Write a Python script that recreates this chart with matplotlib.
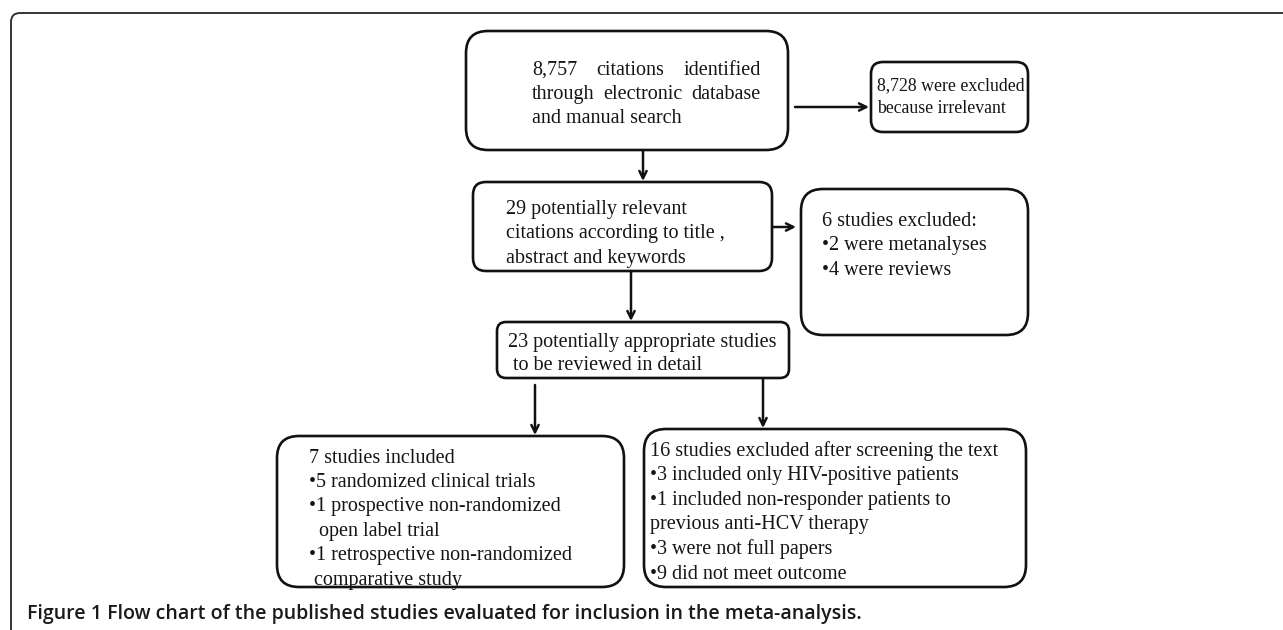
import matplotlib.pyplot as plt
from matplotlib.patches import FancyBboxPatch

# box texts, one list per box
search_text = ["8,757 citations identified", "through electronic database", "and manual search"]
irrelevant_text = ["8,728 were excluded", "because irrelevant"]
relevant_text = ["29 potentially relevant", "citations according to title ,", "abstract and keywords"]
review_text = ["6 studies excluded:", "\u20222 were metanalyses", "\u20224 were reviews"]
appropriate_text = ["23 potentially appropriate studies", " to be reviewed in detail"]
included_text = ["7 studies included", "\u20225 randomized clinical trials",
                 "\u20221 prospective non-randomized", "  open label trial",
                 "\u20221 retrospective non-randomized", " comparative study"]
screened_text = ["16 studies excluded after screening the text",
                 "\u20223 included only HIV-positive patients",
                 "\u20221 included non-responder patients to",
                 "previous anti-HCV therapy", "\u20223 were not full papers",
                 "\u20229 did not meet outcome"]
caption = "Figure 1 Flow chart of the published studies evaluated for inclusion in the meta-analysis."

# layout in pixel units: box (x0, y0, x1, y1, corner), text (x, first line y, line step, size)
layout = {
    "search": ((466, 31, 788, 150, 22), (532, 68, 24, 14.5)),
    "irrelevant": ((871, 62, 1028, 132, 12), (877, 84, 23, 12.8)),
    "relevant": ((473, 182, 772, 271, 13), (506, 207, 24.5, 14.5)),
    "review": ((801, 189, 1028, 335, 22), (822, 219, 24.5, 14.5)),
    "appropriate": ((497, 322, 789, 378, 9), (508, 340, 23, 14.5)),
    "included": ((277, 436, 624, 587, 22), (309, 456, 24.4, 14.5)),
    "screened": ((644, 429, 1026, 587, 22), (650, 449, 24.6, 14.5)),
}
texts = {"search": search_text, "irrelevant": irrelevant_text, "relevant": relevant_text,
         "review": review_text, "appropriate": appropriate_text,
         "included": included_text, "screened": screened_text}
arrows = [((795, 107), (869, 107)), ((643, 151), (643, 181)),
          ((772, 227), (796, 227)), ((631, 271), (631, 321)),
          ((535, 385), (535, 435)), ((763, 379), (763, 428))]

serif = "Liberation Serif"

fig = plt.figure(figsize=(12.83, 6.3), dpi=100)
ax = fig.add_axes([0, 0, 1, 1])
ax.set_xlim(0, 1283)
ax.set_ylim(630, 0)
ax.axis("off")

# outer frame with rounded top-left corner
ax.add_patch(FancyBboxPatch((11, 13), 1400, 700, boxstyle="round,pad=0,rounding_size=9",
                            fc="none", ec="#333333", lw=1.4))

renderer = fig.canvas.get_renderer()


def put(x, y, s, size):
    # y is the line centre; place text on its baseline so words line up
    return ax.text(x, y + size * 0.45, s, fontsize=size, family=serif, va="baseline",
                   color="#151515")


def justify(words, x0, x1, y, size):
    items = [put(x0, y, w, size) for w in words]
    widths = [t.get_window_extent(renderer).width for t in items]
    gap = (x1 - x0 - sum(widths)) / (len(words) - 1)
    x = x0
    for t, w in zip(items, widths):
        t.set_x(x)
        x += w + gap


for name, ((x0, y0, x1, y1, r), (tx, ty, step, size)) in layout.items():
    ax.add_patch(FancyBboxPatch((x0, y0), x1 - x0, y1 - y0,
                                boxstyle=f"round,pad=0,rounding_size={r}",
                                fc="white", ec="#111111", lw=1.9))
    for i, line in enumerate(texts[name]):
        y = ty + i * step
        if name == "search" and i < 2:
            justify(line.split(), tx, 761, y, size)
        else:
            put(tx, y, line, size)

for start, end in arrows:
    ax.annotate("", xy=end, xytext=start,
                arrowprops=dict(arrowstyle="->", lw=1.8, color="#111111", mutation_scale=13,
                                shrinkA=0, shrinkB=0))

ax.text(27, 614, caption, fontsize=14, family="Open Sans", fontweight="semibold",
        va="center", color="#1a1a1a")

fig.savefig("out.png", dpi=100)
